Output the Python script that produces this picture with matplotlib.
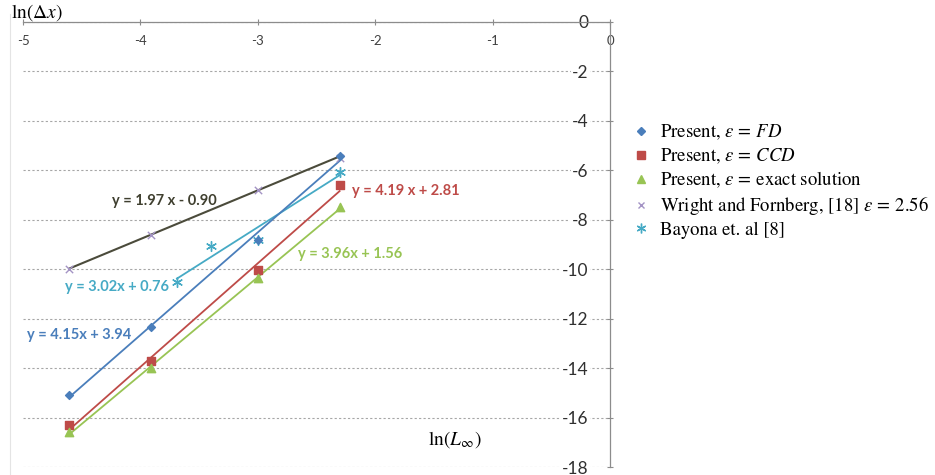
import numpy as np
import matplotlib
matplotlib.use('Agg')
import matplotlib.pyplot as plt
from matplotlib.lines import Line2D

plt.rcParams['font.family'] = ['Lato', 'DejaVu Sans']
plt.rcParams['mathtext.fontset'] = 'stix'
plt.rcParams['axes.unicode_minus'] = False

# ln(dx) for each grid spacing
x_main = [-4.605, -3.912, -2.996, -2.303]
x_bayona = [-3.689, -3.401, -2.996, -2.303]

fd_err = [-15.1, -12.35, -8.8, -5.42]
ccd_err = [-16.3, -13.7, -10.05, -6.6]
exact_err = [-16.6, -14.0, -10.35, -7.5]
wright_err = [-10.0, -8.6, -6.8, -5.5]
bayona_err = [-10.5, -9.05, -8.8, -6.05]

# fitted trend lines: slope, intercept
fd_fit = (4.15, 3.94)
ccd_fit = (4.19, 2.81)
exact_fit = (3.96, 1.56)
wright_fit = (1.97, -0.90)
bayona_fit = (3.02, 0.76)

BLUE = '#4a7ebb'
RED = '#be4b48'
GREEN = '#98c454'
PURPLE = '#a393c4'
CYAN = '#46aac5'
DARK = '#4b4b3b'
ASTERISK = (6, 2, 0)

fig = plt.figure(figsize=(9.35, 4.75), dpi=100)
ax = fig.add_axes([0.0246, 0.0168, 0.6278, 0.9369])
ax.set_xlim(-5, 0)
ax.set_ylim(-18, 0)

# axes cross at the origin, so the x axis runs along the top and the y axis on the right
ax.spines['bottom'].set_position(('data', 0))
ax.spines['left'].set_position(('data', 0))
ax.spines['top'].set_visible(False)
ax.spines['right'].set_visible(False)
for s in ('bottom', 'left'):
    ax.spines[s].set_color('#8c8c8c')
    ax.spines[s].set_linewidth(0.9)

ax.set_xticks(np.arange(-5, 1, 1))
ax.set_yticks(np.arange(-18, 1, 2))
ax.tick_params(axis='x', direction='inout', length=5, colors='#8c8c8c',
               labelcolor='#404040', labelsize=9.5, pad=7)
ax.tick_params(axis='y', direction='inout', length=5, colors='#8c8c8c',
               labelcolor='#303030', labelsize=12.5, pad=13)
for lbl in ax.get_yticklabels():
    lbl.set_bbox(dict(facecolor='white', edgecolor='none', pad=1))

ax.yaxis.grid(True, color='#a6a6a6', linestyle=(0, (2, 2)), linewidth=0.8)
ax.set_axisbelow(True)


def trend(xs, fit, color, lw=1.3):
    xx = np.array([xs[0], xs[-1]])
    ax.plot(xx, fit[0] * xx + fit[1], color=color, linewidth=lw, zorder=2)


trend(x_main, wright_fit, DARK, 1.5)
trend(x_bayona, bayona_fit, CYAN)
trend(x_main, fd_fit, BLUE)
trend(x_main, ccd_fit, RED)
trend(x_main, exact_fit, GREEN)

ax.scatter(x_main, wright_err, marker='x', s=28, color=PURPLE, linewidths=1.0, zorder=3)
ax.scatter(x_bayona, bayona_err, marker=ASTERISK, s=50, color=CYAN, linewidths=1.0, zorder=3)
ax.scatter(x_main, fd_err, marker='D', s=16, color=BLUE, zorder=4)
ax.scatter(x_main, ccd_err, marker='s', s=36, color=RED, zorder=4)
ax.scatter(x_main, exact_err, marker='^', s=36, color=GREEN, zorder=4)

# trend line equations
eq_kw = dict(fontsize=10.5, fontweight='bold', transform=ax.transData, va='center')
ax.text(-4.24, -7.25, 'y = 1.97 x - 0.90', color='#3f3f2f', **eq_kw)
ax.text(-2.2, -6.82, 'y = 4.19 x + 2.81', color=RED, **eq_kw)
ax.text(-2.66, -9.4, 'y = 3.96x + 1.56', color=GREEN, **eq_kw)
ax.text(-4.64, -10.7, 'y = 3.02x + 0.76', color=CYAN, **eq_kw)
ax.text(-4.97, -12.65, 'y = 4.15x + 3.94', color=BLUE, **eq_kw)

fig.text(0.012, 0.973, r'$\ln(\Delta x)$', fontsize=14, va='center', ha='left')
fig.text(0.458, 0.074, r'$\ln(L_{\infty})$', fontsize=14, va='center', ha='left')

# faint chart border on the left
fig.add_artist(Line2D([0.011, 0.011], [0.0, 0.97], color='#e4e4e4', linewidth=0.8))

handles = [
    Line2D([], [], linestyle='none', marker='D', markersize=4, color=BLUE),
    Line2D([], [], linestyle='none', marker='s', markersize=6, color=RED),
    Line2D([], [], linestyle='none', marker='^', markersize=6, color=GREEN),
    Line2D([], [], linestyle='none', marker='x', markersize=5, color=PURPLE, markeredgewidth=1.0),
    Line2D([], [], linestyle='none', marker=ASTERISK, markersize=7, color=CYAN, markeredgewidth=1.0),
]
labels = [
    r'Present, $\varepsilon\,=\,FD$',
    r'Present, $\varepsilon\,=\,CCD$',
    r'Present, $\varepsilon\,=\,$exact solution',
    r'Wright and Fornberg, [18] $\varepsilon\,=\,2.56$',
    'Bayona et. al [8]',
]
fig.legend(handles, labels, loc='upper left', bbox_to_anchor=(0.66, 0.777),
           frameon=False, handlelength=0.8, handletextpad=0.6, labelspacing=0.22,
           prop={'family': 'STIXGeneral', 'size': 13.5})

fig.savefig('out.png', dpi=100)
